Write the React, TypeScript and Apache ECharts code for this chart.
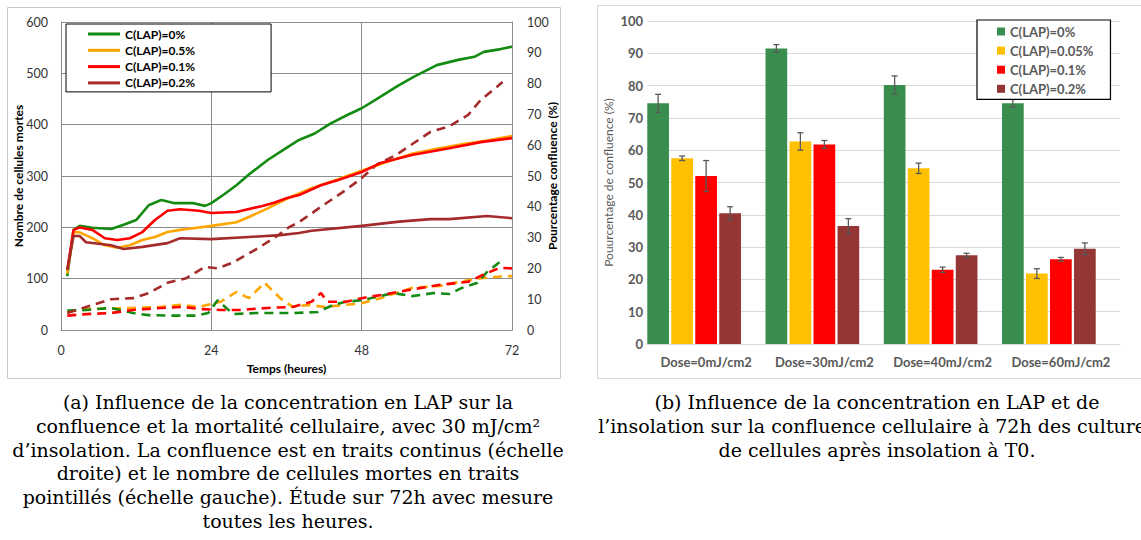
import React, { useEffect, useRef } from "react";
import * as echarts from "echarts";

const SANS = "Lato, 'Noto Sans', sans-serif";
const SERIF = "'DejaVu Serif', serif";

// ---------- Chart (a): confluence (%) and dead cells over 72 h ----------
const LEGEND_A = ["C(LAP)=0%", "C(LAP)=0.5%", "C(LAP)=0.1%", "C(LAP)=0.2%"];
const COLORS_A = ["#138a12", "#ffa500", "#ff0000", "#a52a2a"];

// confluence (%), right axis  — [hour, value]
const conf0: number[][] = [[1,17.5],[2,32.5],[3,33.8],[5,33.2],[8,32.8],[10,34.2],[12,35.7],[14,40.5],[16,42.2],[18,41.2],[21,41.2],[23,40.3],[24,41.2],[26,44],[28,47],[30,50.5],[33,55.2],[35.5,58.5],[38,61.7],[40.5,63.8],[43,67],[45.7,69.8],[48,72],[50,74.5],[53.7,79.2],[56.3,82.2],[60,86],[63.4,87.7],[66,88.7],[67.5,90.3],[70.2,91.2],[72,92]];
const conf05: number[][] = [[1,18.3],[2,31.8],[3,31.7],[5,29.8],[7,27.5],[9,26.7],[11,27.5],[13,29.2],[15,30.2],[17,31.8],[19,32.5],[22,33.3],[24,33.8],[28,35],[30,36.7],[33,39.5],[36,42.6],[40,46],[44,48.8],[48,51.7],[52,54.5],[56,57.2],[60,58.8],[64,60.3],[68,61.5],[72,63]];
const conf01: number[][] = [[1,19.5],[2,32.5],[3,33.3],[5,32.5],[7,29.8],[9,29.2],[11,29.8],[13,31.8],[15,35.7],[17,38.7],[19,39.2],[22,38.7],[24,38],[28,38.3],[32,40.2],[34,41.3],[36,42.8],[38,43.8],[41.5,47],[44,48.5],[48,51.3],[51,54.2],[56,56.8],[62,59],[67,61],[72,62.3]];
const conf02: number[][] = [[1,19.5],[2,30.5],[3,30.5],[4,28.5],[8,27.5],[10,26.3],[13,27],[17,28.2],[19,29.8],[24,29.5],[30,30.2],[35,30.8],[38,31.5],[40,32.2],[48,33.8],[54,35.2],[59,36],[62,36],[68,37],[72,36.3]];

// dead cells, left axis — [hour, count]
const dead0: number[][] = [[1,38],[4,39],[8,43],[11.5,33],[14,29],[18,28],[21.5,28],[23.5,33],[25,58],[27.5,31],[31,33],[34,33],[37,33],[41,35],[43.5,49],[45.5,55],[48,58],[51,66],[53,72],[56,66],[59.5,72],[62,70],[64,82],[66.5,92],[68,113],[70,132]];
const dead05: number[][] = [[1,35],[4,41],[11.5,43],[16,45],[19,49],[22,45],[25.5,55],[28,74],[30,62],[32.5,92],[35,62],[37,45],[39.5,49],[42,45],[45.5,49],[48,52],[51,62],[56,82],[60.5,86],[65,97],[68.5,103],[72,105]];
const dead01: number[][] = [[1,28],[4,31],[8,33],[11.5,39],[16,43],[19.5,45],[22,41],[25.5,39],[28.5,39],[33,43],[37,45],[40,55],[41.5,72],[42.5,55],[45.5,55],[48,62],[52,70],[56,79],[60.5,88],[65,94],[68,111],[70,121],[72,120]];
const dead02: number[][] = [[1,33],[4,45],[8,60],[11.5,62],[14,72],[17,92],[20,101],[23,123],[25,120],[27.5,132],[31,156],[34,179],[36.5,201],[38,210],[41.5,240],[45.5,273],[48,296],[50.5,323],[53.5,341],[59,386],[62,397],[65,419],[67,448],[70.5,483]];

const CAPTION_A = [
  "(a) Influence de la concentration en LAP sur la",
  "confluence et la mortalité cellulaire, avec 30 mJ/cm²",
  "d’insolation. La confluence est en traits continus (échelle",
  "droite) et le nombre de cellules mortes en traits",
  "pointillés (échelle gauche). Étude sur 72h avec mesure",
  "toutes les heures.",
];

// ---------- Chart (b): confluence at 72 h by dose ----------
const DOSES = ["Dose=0mJ/cm2", "Dose=30mJ/cm2", "Dose=40mJ/cm2", "Dose=60mJ/cm2"];
const LEGEND_B = ["C(LAP)=0%", "C(LAP)=0.05%", "C(LAP)=0.1%", "C(LAP)=0.2%"];
const COLORS_B = ["#3a8e4d", "#ffc000", "#ff0000", "#943634"];
const bar0 = [74.5, 91.5, 80.2, 74.5];
const bar005 = [57.5, 62.7, 54.4, 21.8];
const bar01 = [52, 61.8, 23, 26.2];
const bar02 = [40.5, 36.5, 27.5, 29.5];
const err0 = [2.8, 1.2, 2.8, 1.2];
const err005 = [0.7, 2.7, 1.6, 1.5];
const err01 = [4.8, 1.2, 0.8, 0.6];
const err02 = [2.0, 2.3, 0.6, 1.8];

const CAPTION_B = [
  "(b) Influence de la concentration en LAP et de",
  "l’insolation sur la confluence cellulaire à 72h des cultures",
  "de cellules après insolation à T0.",
];

const CAP_FONT = "19px " + SERIF;
const CAP_Y0 = 402;
const CAP_DY = 23.8;

function captionGraphics(lines: string[], cx: number) {
  return lines.map((t, i) => ({
    type: "text",
    x: cx,
    y: CAP_Y0 + i * CAP_DY,
    style: {
      text: t,
      font: CAP_FONT,
      fill: "#000",
      align: "center",
      verticalAlign: "middle",
      textAlign: "center",
      textVerticalAlign: "middle",
    },
  }));
}

function optionA(): any {
  const gridColor = "#8c8c8c";
  const axisName = { fontWeight: "bold", fontSize: 12, color: "#000", fontFamily: SANS };
  const tick = { color: "#333", fontSize: 12.5, fontFamily: SANS };
  const solid = [conf0, conf05, conf01, conf02];
  const dashed = [dead05, dead0, dead01, dead02];
  const dashedColors = [COLORS_A[1], COLORS_A[0], COLORS_A[2], COLORS_A[3]];
  return {
    animation: false,
    textStyle: { fontFamily: SANS },
    graphic: [
      {
        type: "rect",
        shape: { x: 7.5, y: 7.5, width: 553, height: 371 },
        style: { fill: "none", stroke: "#c8c8c8", lineWidth: 1 },
        z: -10,
      },
      ...captionGraphics(CAPTION_A, 288),
    ],
    grid: { left: 61, top: 22, width: 451, height: 308 },
    legend: {
      left: 66,
      top: 24,
      orient: "vertical",
      icon: "rect",
      itemWidth: 32,
      itemHeight: 3,
      itemGap: 4.3,
      padding: [4, 76, 3, 22],
      borderColor: "#000",
      borderWidth: 1,
      backgroundColor: "#fff",
      textStyle: { color: "#000", fontSize: 12, fontWeight: "bold", fontFamily: SANS },
      data: LEGEND_A,
    },
    xAxis: {
      type: "value",
      min: 0,
      max: 72,
      interval: 24,
      axisLine: { lineStyle: { color: gridColor } },
      axisTick: { show: false },
      splitLine: { lineStyle: { color: gridColor } },
      axisLabel: { ...tick, margin: 14 },
      name: "Temps (heures)",
      nameLocation: "middle",
      nameGap: 32,
      nameMoveOverlap: false,
      nameTextStyle: axisName,
    },
    yAxis: [
      {
        type: "value",
        min: 0,
        max: 600,
        interval: 100,
        position: "left",
        axisLine: { show: true, lineStyle: { color: gridColor } },
        axisTick: { show: false },
        splitLine: { lineStyle: { color: gridColor } },
        axisLabel: { ...tick, margin: 13 },
        name: "Nombre de cellules mortes",
        nameLocation: "middle",
        nameGap: 37,
        nameMoveOverlap: false,
        nameTextStyle: axisName,
      },
      {
        type: "value",
        min: 0,
        max: 100,
        interval: 10,
        position: "right",
        axisLine: { show: true, lineStyle: { color: gridColor } },
        axisTick: { show: false },
        splitLine: { show: false },
        axisLabel: { ...tick, margin: 15 },
        name: "Pourcentage confluence (%)",
        nameLocation: "middle",
        nameGap: 34,
        nameMoveOverlap: false,
        nameTextStyle: axisName,
      },
    ],
    series: [
      ...dashed.map((d, i) => ({
        type: "line",
        name: "Cellules mortes " + i,
        xAxisIndex: 0,
        yAxisIndex: 0,
        data: d,
        symbol: "none",
        showSymbol: false,
        lineStyle: { color: dashedColors[i], width: 2.6, type: [9, 6] },
        itemStyle: { color: dashedColors[i] },
        z: 2,
      })),
      ...solid.map((d, i) => ({
        type: "line",
        name: LEGEND_A[i],
        xAxisIndex: 0,
        yAxisIndex: 1,
        data: d,
        symbol: "none",
        showSymbol: false,
        lineStyle: { color: COLORS_A[i], width: 2.6 },
        itemStyle: { color: COLORS_A[i] },
        z: 3,
      })),
    ],
  };
}

const PITCH = 24;

function optionB(): any {
  const bars = [bar0, bar005, bar01, bar02];
  const errs = [err0, err005, err01, err02];
  const errData: number[][] = [];
  bars.forEach((b, s) => b.forEach((v, c) => errData.push([c, v, errs[s][c], s])));
  const label = { color: "#595959", fontSize: 13, fontWeight: "bold", fontFamily: SANS };
  return {
    animation: false,
    textStyle: { fontFamily: SANS },
    graphic: [
      {
        type: "rect",
        shape: { x: 12.5, y: 5.5, width: 600, height: 373 },
        style: { fill: "none", stroke: "#d9d9d9", lineWidth: 1 },
        z: -10,
      },
      ...captionGraphics(CAPTION_B, 292),
    ],
    grid: { left: 62, top: 21, width: 473, height: 323 },
    legend: {
      left: 392,
      top: 20,
      orient: "vertical",
      icon: "rect",
      itemWidth: 8,
      itemHeight: 8,
      itemGap: 6.1,
      padding: [5, 17, 4, 20],
      borderColor: "#000",
      borderWidth: 1.2,
      backgroundColor: "#fff",
      textStyle: label,
      data: LEGEND_B,
      z: 20,
    },
    xAxis: {
      type: "category",
      data: DOSES,
      axisLine: { lineStyle: { color: "#d9d9d9" } },
      axisTick: { show: false },
      axisLabel: { ...label, margin: 11, interval: 0 },
    },
    yAxis: {
      type: "value",
      min: 0,
      max: 100,
      interval: 10,
      axisLine: { show: false },
      axisTick: { show: false },
      splitLine: { lineStyle: { color: "#d9d9d9" } },
      axisLabel: { ...label, margin: 4 },
      name: "Pouurcentage de confluence (%)",
      nameLocation: "middle",
      nameGap: 33,
      nameMoveOverlap: false,
      nameTextStyle: { color: "#595959", fontSize: 12, fontFamily: SANS },
    },
    series: [
      ...bars.map((b, i) => ({
        type: "bar",
        name: LEGEND_B[i],
        data: b,
        barWidth: 21.7,
        barGap: "10.6%",
        itemStyle: { color: COLORS_B[i] },
        z: 2,
      })),
      { type: "bar", name: "spacer", data: [], barWidth: 21.7, barGap: "10.6%" },
      {
        type: "custom",
        name: "error",
        data: errData,
        z: 3,
        renderItem: (_p: any, api: any) => {
          const c = api.value(0);
          const v = api.value(1);
          const e = api.value(2);
          const s = api.value(3);
          const top = api.coord([c, v + e]);
          const bot = api.coord([c, v - e]);
          const x = top[0] + (s - 2) * PITCH;
          const st = { stroke: "#595959", lineWidth: 1.3 };
          return {
            type: "group",
            children: [
              { type: "line", shape: { x1: x, y1: top[1], x2: x, y2: bot[1] }, style: st },
              { type: "line", shape: { x1: x - 3, y1: top[1], x2: x + 3, y2: top[1] }, style: st },
              { type: "line", shape: { x1: x - 3, y1: bot[1], x2: x + 3, y2: bot[1] }, style: st },
            ],
          };
        },
      },
    ],
  };
}

export default function App() {
  const refA = useRef<HTMLDivElement>(null);
  const refB = useRef<HTMLDivElement>(null);
  useEffect(() => {
    const a = echarts.init(refA.current!, null, { renderer: "svg" });
    const b = echarts.init(refB.current!, null, { renderer: "svg" });
    a.setOption(optionA());
    b.setOption(optionB());
    return () => {
      a.dispose();
      b.dispose();
    };
  }, []);
  return (
    <div style={{ position: "fixed", left: 0, top: 0, width: 1141, height: 540, background: "#fff", overflow: "hidden" }}>
      <div ref={refA} style={{ position: "absolute", left: 0, top: 0, width: 585, height: 540 }} />
      <div ref={refB} style={{ position: "absolute", left: 585, top: 0, width: 556, height: 540 }} />
    </div>
  );
}
